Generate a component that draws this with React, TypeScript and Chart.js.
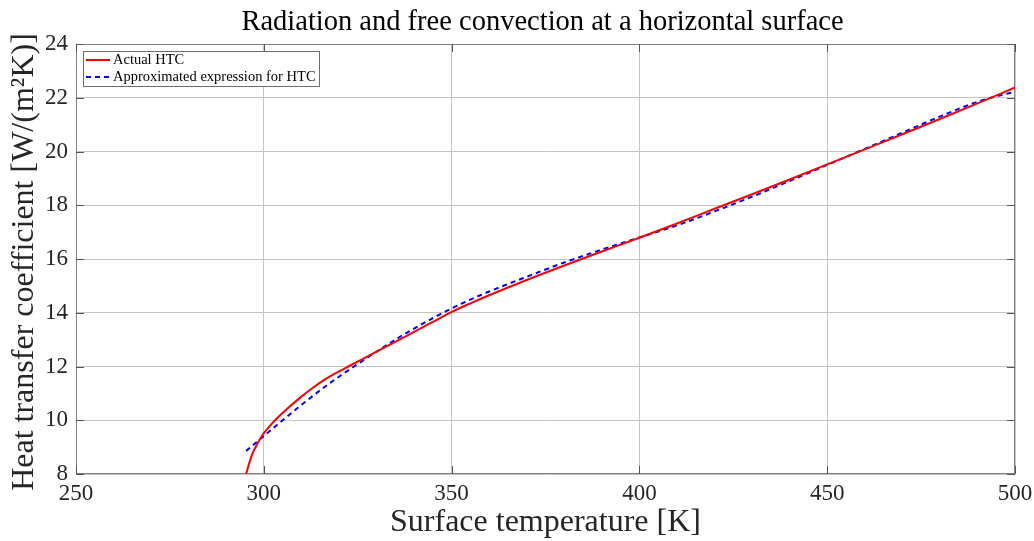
import React, { useEffect, useRef } from "react";
import { Chart, registerables } from "chart.js";

Chart.register(...registerables);

// Surface temperature [K] and HTC values
const actualT = [295.3, 296, 297, 298, 299, 300, 301.5, 303, 306, 310, 313, 316, 319, 322.5, 326, 330, 336, 340, 345, 350, 355, 360, 370, 380, 390, 400, 410, 420, 430, 440, 450, 460, 470, 480, 490, 500];
const actualH = [8.0, 8.35, 8.77, 9.05, 9.3, 9.52, 9.77, 10.0, 10.4, 10.88, 11.2, 11.49, 11.74, 12.0, 12.26, 12.55, 12.99, 13.29, 13.66, 14.03, 14.35, 14.65, 15.22, 15.76, 16.28, 16.79, 17.32, 17.87, 18.41, 18.96, 19.52, 20.08, 20.64, 21.21, 21.79, 22.38];

const approxT = [295.3, 300, 305, 310, 316, 320, 324, 330, 336, 340, 345, 350, 355, 360, 370, 380, 390, 400, 410, 420, 430, 440, 450, 460, 470, 480, 490, 495, 500];
const approxH = [8.86, 9.41, 10.0, 10.57, 11.22, 11.62, 12.0, 12.55, 13.08, 13.41, 13.8, 14.16, 14.49, 14.79, 15.34, 15.87, 16.35, 16.8, 17.25, 17.77, 18.32, 18.9, 19.5, 20.1, 20.7, 21.3, 21.85, 22.05, 22.22];

const xTicks = [250, 300, 350, 400, 450, 500];
const yTicks = [8, 10, 12, 14, 16, 18, 20, 22, 24];

const seriesLabels = ["Actual HTC", "Approximated expression for HTC"];
const titleText = "Radiation and free convection at a horizontal surface";
const xLabel = "Surface temperature [K]";
const yLabel = "Heat transfer coefficient [W/(m\u00B2K)]";

const FONT = '"Liberation Serif", "DejaVu Serif", serif';

export default function App() {
  const ref = useRef<HTMLCanvasElement | null>(null);

  useEffect(() => {
    const canvas = ref.current;
    if (!canvas) return;

    const boxPlugin = {
      id: "boxPlugin",
      beforeDatasetsDraw(chart: any) {
        const { ctx, chartArea: a, scales } = chart;
        ctx.save();
        ctx.strokeStyle = "#808080";
        ctx.lineWidth = 1;
        ctx.strokeRect(a.left + 0.5, a.top + 0.5, a.right - a.left - 1, a.bottom - a.top - 1);
        // inward tick marks on all four sides
        ctx.strokeStyle = "#555";
        ctx.beginPath();
        xTicks.forEach((v) => {
          const px = Math.round(scales.x.getPixelForValue(v)) + 0.5;
          ctx.moveTo(px, a.bottom);
          ctx.lineTo(px, a.bottom - 8);
          ctx.moveTo(px, a.top);
          ctx.lineTo(px, a.top + 8);
        });
        yTicks.forEach((v) => {
          const py = Math.round(scales.y.getPixelForValue(v)) + 0.5;
          ctx.moveTo(a.left, py);
          ctx.lineTo(a.left + 8, py);
          ctx.moveTo(a.right, py);
          ctx.lineTo(a.right - 8, py);
        });
        ctx.stroke();
        ctx.restore();
      },
    };

    const textPlugin = {
      id: "textPlugin",
      afterDraw(chart: any) {
        const { ctx, chartArea: a } = chart;
        ctx.save();
        // chart title
        ctx.fillStyle = "#000";
        ctx.font = `28.5px ${FONT}`;
        ctx.textAlign = "center";
        ctx.textBaseline = "alphabetic";
        ctx.fillText(titleText, (a.left + a.right) / 2 - 3, 30);
        // x axis title
        ctx.fillStyle = "#262626";
        ctx.font = `32px ${FONT}`;
        ctx.fillText(xLabel, (a.left + a.right) / 2, 531);
        // y axis title
        ctx.translate(33, (a.top + a.bottom) / 2 + 3);
        ctx.rotate(-Math.PI / 2);
        ctx.fillText(yLabel, 0, 0);
        ctx.restore();
      },
    };

    const legendPlugin = {
      id: "legendPlugin",
      afterDraw(chart: any) {
        const { ctx, chartArea: a } = chart;
        const x0 = a.left + 7;
        const y0 = a.top + 7;
        const w = 236;
        const h = 35;
        ctx.save();
        ctx.fillStyle = "#fff";
        ctx.fillRect(x0, y0, w, h);
        ctx.strokeStyle = "#6e6e6e";
        ctx.lineWidth = 1;
        ctx.strokeRect(x0 + 0.5, y0 + 0.5, w, h);
        ctx.font = `14.5px ${FONT}`;
        ctx.textBaseline = "middle";
        ctx.textAlign = "left";
        chart.data.datasets.forEach((ds: any, i: number) => {
          const yy = y0 + 9 + i * 17;
          ctx.strokeStyle = ds.borderColor;
          ctx.lineWidth = 2;
          ctx.setLineDash(ds.borderDash || []);
          ctx.beginPath();
          ctx.moveTo(x0 + 3, yy);
          ctx.lineTo(x0 + 27, yy);
          ctx.stroke();
          ctx.setLineDash([]);
          ctx.fillStyle = "#000";
          ctx.fillText(ds.label, x0 + 30, yy);
        });
        ctx.restore();
      },
    };

    const chart = new Chart(canvas, {
      type: "line",
      data: {
        datasets: [
          {
            label: seriesLabels[0],
            data: actualT.map((t, i) => ({ x: t, y: actualH[i] })),
            borderColor: "#ff0000",
            borderWidth: 2,
            pointRadius: 0,
            cubicInterpolationMode: "monotone",
            fill: false,
          },
          {
            label: seriesLabels[1],
            data: approxT.map((t, i) => ({ x: t, y: approxH[i] })),
            borderColor: "#0000ff",
            borderWidth: 2,
            borderDash: [5, 4],
            pointRadius: 0,
            cubicInterpolationMode: "monotone",
            fill: false,
          },
        ],
      },
      options: {
        animation: false,
        responsive: false,
        maintainAspectRatio: false,
        layout: { padding: { top: 44, right: 19, bottom: 0, left: 0 } },
        plugins: {
          legend: { display: false },
          title: { display: false },
          tooltip: { enabled: false },
        },
        scales: {
          x: {
            type: "linear",
            min: xTicks[0],
            max: xTicks[xTicks.length - 1],
            afterBuildTicks: (s: any) => {
              s.ticks = xTicks.map((v) => ({ value: v }));
            },
            afterFit: (s: any) => {
              s.height = 67;
              s.paddingRight = 0;
              s.paddingLeft = 0;
            },
            grid: { color: "#c4c4c4", drawTicks: false },
            border: { display: false },
            ticks: {
              color: "#262626",
              font: { family: FONT, size: 23 },
              padding: 6,
              maxRotation: 0,
            },
            title: { display: false },
          },
          y: {
            type: "linear",
            min: yTicks[0],
            max: yTicks[yTicks.length - 1],
            afterBuildTicks: (s: any) => {
              s.ticks = yTicks.map((v) => ({ value: v }));
            },
            afterFit: (s: any) => {
              s.width = 76;
              s.paddingTop = 0;
              s.paddingBottom = 0;
            },
            grid: { color: "#c4c4c4", drawTicks: false },
            border: { display: false },
            ticks: {
              color: "#262626",
              font: { family: FONT, size: 23 },
              padding: 8,
            },
            title: { display: false },
          },
        },
      },
      plugins: [boxPlugin, textPlugin, legendPlugin],
    } as any);

    return () => chart.destroy();
  }, []);

  return (
    <div style={{ position: "fixed", left: 0, top: 0, width: 1034, height: 541, background: "#fff" }}>
      <canvas ref={ref} width={1034} height={541} style={{ width: 1034, height: 541, display: "block" }} />
    </div>
  );
}
